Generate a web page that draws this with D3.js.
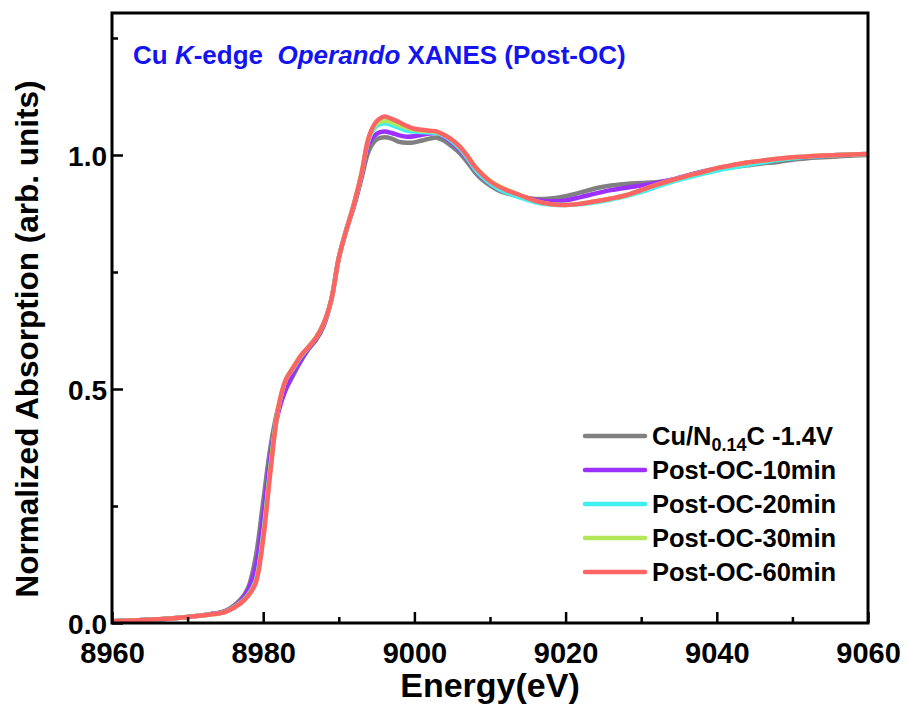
<!DOCTYPE html>
<html>
<head>
<meta charset="utf-8">
<script src="https://cdn.jsdelivr.net/npm/d3@7"></script>
<style>
html,body{margin:0;padding:0;background:#fff;}
svg{display:block;font-family:"Liberation Sans",Arial,sans-serif;}
</style>
</head>
<body>
<div id="chart"></div>
<script>
const energy = [8960,8965,8970,8973,8975,8977,8978,8979,8980,8981,8982,8983,8984,8985,8986,8987,8988,8989,8990,8991,8992,8993,8994,8995,8996,8997,8998,8999,9000,9001,9002,9003,9004,9005,9006,9007,9008,9009,9010,9011,9012,9014,9016,9018,9020,9022,9024,9026,9028,9030,9032,9034,9036,9038,9040,9042,9044,9046,9048,9050,9052,9054,9056,9058,9060];

const cuN = [0.004,0.007,0.013,0.019,0.026,0.05,0.075,0.14,0.26,0.38,0.46,0.50,0.53,0.56,0.585,0.605,0.635,0.69,0.78,0.84,0.89,0.95,1.01,1.033,1.038,1.035,1.028,1.026,1.027,1.031,1.035,1.037,1.030,1.018,1.004,0.985,0.963,0.947,0.935,0.925,0.919,0.911,0.906,0.907,0.912,0.920,0.929,0.935,0.938,0.940,0.942,0.946,0.955,0.964,0.970,0.974,0.978,0.982,0.985,0.990,0.993,0.995,0.997,0.999,1.000];
const oc10 = [0.004,0.007,0.013,0.019,0.025,0.047,0.07,0.12,0.23,0.36,0.45,0.50,0.535,0.562,0.587,0.607,0.637,0.69,0.78,0.84,0.892,0.955,1.025,1.045,1.050,1.047,1.042,1.039,1.040,1.043,1.046,1.047,1.038,1.026,1.011,0.992,0.969,0.952,0.939,0.929,0.922,0.912,0.904,0.901,0.903,0.910,0.918,0.925,0.930,0.935,0.940,0.947,0.956,0.964,0.971,0.976,0.981,0.986,0.990,0.994,0.996,0.998,1.000,1.001,1.002];
const oc20 = [0.004,0.007,0.013,0.018,0.024,0.043,0.06,0.09,0.19,0.34,0.46,0.52,0.545,0.57,0.59,0.61,0.64,0.69,0.78,0.84,0.895,0.96,1.035,1.062,1.068,1.064,1.058,1.052,1.050,1.049,1.048,1.047,1.040,1.029,1.014,0.994,0.970,0.953,0.939,0.929,0.921,0.909,0.899,0.894,0.893,0.895,0.899,0.905,0.912,0.921,0.932,0.942,0.951,0.959,0.967,0.973,0.979,0.984,0.989,0.993,0.996,0.998,1.000,1.001,1.002];
const oc30 = [0.004,0.007,0.013,0.018,0.024,0.043,0.058,0.087,0.185,0.335,0.46,0.52,0.546,0.571,0.59,0.61,0.64,0.69,0.78,0.84,0.895,0.96,1.038,1.067,1.073,1.070,1.064,1.058,1.054,1.052,1.051,1.049,1.042,1.032,1.018,0.998,0.976,0.959,0.945,0.935,0.927,0.914,0.902,0.895,0.893,0.896,0.901,0.907,0.914,0.925,0.936,0.946,0.955,0.963,0.972,0.978,0.984,0.988,0.992,0.995,0.997,0.999,1.000,1.001,1.002];
const oc60 = [0.004,0.007,0.013,0.018,0.024,0.042,0.058,0.085,0.18,0.33,0.46,0.52,0.547,0.572,0.59,0.61,0.64,0.69,0.78,0.84,0.895,0.96,1.04,1.072,1.082,1.077,1.070,1.062,1.056,1.054,1.052,1.050,1.042,1.032,1.018,0.998,0.975,0.958,0.944,0.934,0.926,0.914,0.902,0.895,0.893,0.896,0.901,0.907,0.914,0.925,0.936,0.946,0.955,0.963,0.972,0.978,0.984,0.988,0.992,0.995,0.997,0.999,1.000,1.001,1.002];

const seriesNames = ["Cu/N0.14C -1.4V","Post-OC-10min","Post-OC-20min","Post-OC-30min","Post-OC-60min"];
const seriesColors = ["#808080","#9b30ff","#40f0f0","#b4e65a","#ff6464"];
const seriesValues = [cuN, oc10, oc20, oc30, oc60];

const xTicks = [8960,8980,9000,9020,9040,9060];
const xMinor = [8970,8990,9010,9030,9050];
const yTicks = [0.0,0.5,1.0];
const yMinor = [0.25,0.75,1.25];

const W = 908, H = 707;
const pL = 112, pR = 868, pT = 13, pB = 623;

const svg = d3.select("#chart").append("svg").attr("width", W).attr("height", H);

const x = d3.scaleLinear().domain([8960, 9060]).range([pL, pR]);
const y = d3.scaleLinear().domain([0, 1.3034]).range([pB, pT]);

svg.append("clipPath").attr("id","clip").append("rect")
  .attr("x", pL).attr("y", pT).attr("width", pR-pL).attr("height", pB-pT);

const line = d3.line().x((d,i)=>x(energy[i])).y(d=>y(d)).curve(d3.curveCatmullRom.alpha(0.5));

const g = svg.append("g").attr("clip-path","url(#clip)");
seriesValues.forEach((vals, k) => {
  g.append("path").datum(vals)
    .attr("d", line)
    .attr("fill","none")
    .attr("stroke", seriesColors[k])
    .attr("stroke-width", 4.5)
    .attr("stroke-linejoin","round")
    .attr("stroke-linecap","round");
});

const xAxis = d3.axisBottom(x).tickValues(xTicks).tickSize(-11).tickPadding(19).tickFormat(d3.format("d"));
const xAxisMinor = d3.axisBottom(x).tickValues(xMinor).tickSize(-6).tickFormat("");
const yAxis = d3.axisLeft(y).tickValues(yTicks).tickSize(-11).tickPadding(5).tickFormat(d3.format(".1f"));
const yAxisMinor = d3.axisLeft(y).tickValues(yMinor).tickSize(-6).tickFormat("");

function styleAxis(sel){
  sel.select(".domain").remove();
  sel.selectAll(".tick line").attr("stroke","#000").attr("stroke-width",2.5);
  sel.selectAll(".tick text").attr("fill","#000").style("font-weight","bold")
     .style("font-family",'"Liberation Sans",Arial,sans-serif');
}
const gx = svg.append("g").attr("transform",`translate(0,${pB})`).call(xAxis);
styleAxis(gx); gx.selectAll(".tick text").style("font-size","29px");
const gxm = svg.append("g").attr("transform",`translate(0,${pB})`).call(xAxisMinor);
styleAxis(gxm);
const gy = svg.append("g").attr("transform",`translate(${pL},0)`).call(yAxis);
styleAxis(gy); gy.selectAll(".tick text").style("font-size","28px").attr("dy","0.36em");
const gym = svg.append("g").attr("transform",`translate(${pL},0)`).call(yAxisMinor);
styleAxis(gym);

svg.append("rect").attr("x",pL).attr("y",pT).attr("width",pR-pL).attr("height",pB-pT)
  .attr("fill","none").attr("stroke","#000").attr("stroke-width",3);

svg.append("text").attr("x",490).attr("y",697).attr("text-anchor","middle")
  .style("font-size","34px").style("font-weight","bold").text("Energy(eV)");
svg.append("text").attr("transform","translate(38,339) rotate(-90)").attr("text-anchor","middle")
  .style("font-size","31.5px").style("font-weight","bold").text("Normalized Absorption (arb. units)");

const t = svg.append("text").attr("x",133).attr("y",64).attr("fill","#1414f0")
  .style("font-size","26px").style("font-weight","bold").attr("xml:space","preserve");
t.append("tspan").text("Cu ");
t.append("tspan").style("font-style","italic").text("K");
t.append("tspan").text("-edge  ");
t.append("tspan").style("font-style","italic").text("Operando");
t.append("tspan").text(" XANES (Post-OC)");

const lg = svg.append("g");
seriesNames.forEach((name,k)=>{
  const yy = 436 + k*34;
  lg.append("line").attr("x1",585).attr("x2",645).attr("y1",yy).attr("y2",yy)
    .attr("stroke",seriesColors[k]).attr("stroke-width",4.5).attr("stroke-linecap","round");
  const tx = lg.append("text").attr("x",652).attr("y",yy+9)
    .style("font-size","25.5px").style("font-weight","bold");
  if (k===0){
    tx.append("tspan").text("Cu/N");
    tx.append("tspan").attr("dy",6).style("font-size","18px").text("0.14");
    tx.append("tspan").attr("dy",-6).text("C -1.4V");
  } else {
    tx.text(name);
  }
});
</script>
</body>
</html>
